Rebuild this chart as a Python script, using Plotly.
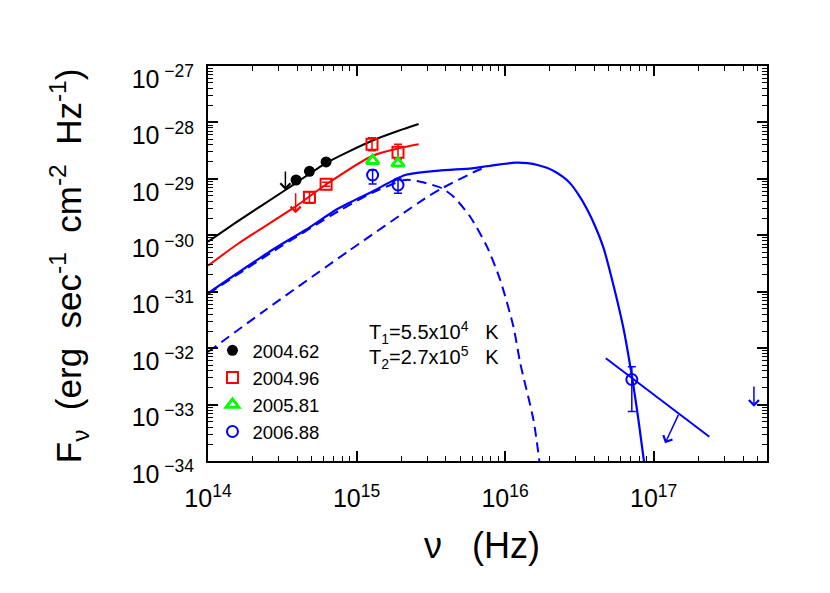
import numpy as np
import plotly.graph_objects as go

# All values below are log10(nu [Hz]) and log10(F_nu [erg/s/cm2/Hz])

# photometry per epoch
nu_0462 = [14.593, 14.683, 14.795]
f_0462 = [-29.020, -28.866, -28.701]

nu_0496 = [14.683, 14.795, 15.104, 15.279]
f_0496 = [-29.327, -29.096, -28.388, -28.530]
f_0496_hi = [-29.227, -29.060, -28.270, -28.388]
f_0496_lo = [-29.433, -29.130, -28.500, -28.653]

nu_0581 = [15.108, 15.279]
f_0581 = [-28.678, -28.725]

nu_0688 = [15.108, 15.279, 16.853]
f_0688 = [-28.932, -29.109, -32.556]
f_0688_hi = [-28.843, -29.003, -32.329]
f_0688_lo = [-29.091, -29.256, -33.123]

# upper limits (arrow top -> arrow tip)
ul_nu = [14.521, 14.590, 17.675]
ul_top = [-28.843, -29.227, -32.653]
ul_tip = [-29.197, -29.610, -33.038]
ul_color = ["black", "red", "blue"]

# X-ray power-law and its slope-uncertainty arrow
xray_nu = [16.678, 17.375]
xray_f = [-32.180, -33.569]
slope_nu = [17.171, 17.077]
slope_f = [-33.155, -33.686]

# model curves
fit_0462_nu = [14.0, 14.207, 14.521, 14.593, 14.795, 15.104, 15.283, 15.418]
fit_0462_f = [-30.114, -29.740, -29.197, -29.070, -28.720, -28.324, -28.147, -28.028]

fit_0496_nu = [14.0, 14.207, 14.588, 14.790, 15.104, 15.283, 15.418]
fit_0496_f = [-30.539, -30.142, -29.493, -29.109, -28.595, -28.459, -28.388]

fit_0688_nu = [14.0, 14.432, 14.656, 14.880, 15.104, 15.328, 15.552, 15.777, 15.888,
               16.068, 16.150, 16.225, 16.281, 16.337, 16.394, 16.438, 16.494, 16.550,
               16.606, 16.662, 16.729, 16.796, 16.853, 16.897, 16.935]
fit_0688_f = [-31.028, -30.261, -29.906, -29.522, -29.228, -28.932, -28.855, -28.813,
              -28.772, -28.714, -28.722, -28.758, -28.805, -28.875, -28.975, -29.080,
              -29.280, -29.530, -29.840, -30.220, -30.880, -31.640, -32.490, -33.260,
              -34.010]

bb1_nu = [14.0, 14.432, 14.880, 15.104, 15.328, 15.429, 15.575, 15.653, 15.765, 15.878,
          15.967, 16.056, 16.102, 16.191, 16.231]
bb1_f = [-31.040, -30.296, -29.570, -29.250, -29.020, -29.050, -29.167, -29.316, -29.671,
         -30.202, -30.792, -31.620, -32.268, -33.273, -34.012]

bb2_nu = [14.0, 14.387, 14.947, 15.463, 15.575, 15.821, 15.888]
bb2_f = [-32.068, -31.324, -30.278, -29.344, -29.167, -28.843, -28.775]

# axis decades and their labels
x_decades = [14, 15, 16, 17]
y_decades = [-34, -33, -32, -31, -30, -29, -28, -27]
x_ticktext = ["10<sup>%d</sup>" % d for d in x_decades]
y_ticktext = ["10<sup>\u00a0\u2212%d</sup>" % -d for d in y_decades]

T_labels = ["T<sub>1</sub>=5.5x10<sup>4</sup>\u00a0\u00a0\u00a0K",
            "T<sub>2</sub>=2.7x10<sup>5</sup>\u00a0\u00a0\u00a0K"]

FONT = "Liberation Sans"


def lin(v):
    return np.power(10.0, np.array(v))


def err(f, hi, lo, color):
    return dict(type="data", symmetric=False,
                array=lin(hi) - lin(f), arrayminus=lin(f) - lin(lo),
                width=4, thickness=1.5, color=color)


def curve(nu, f, color, width=2, dash=None):
    return go.Scatter(x=lin(nu), y=lin(f), mode="lines", showlegend=False,
                      hoverinfo="skip",
                      line=dict(color=color, width=width, dash=dash,
                                shape="spline", smoothing=0.7))


fig = go.Figure()

# curves
fig.add_trace(curve(fit_0462_nu, fit_0462_f, "black"))
fig.add_trace(curve(fit_0496_nu, fit_0496_f, "red"))
fig.add_trace(curve(bb1_nu, bb1_f, "blue", dash="10px,6px"))
fig.add_trace(curve(bb2_nu, bb2_f, "blue", dash="10px,6px"))
fig.add_trace(curve(fit_0688_nu, fit_0688_f, "blue", width=2.2))
fig.add_trace(go.Scatter(x=lin(xray_nu), y=lin(xray_f), mode="lines",
                         line=dict(color="blue", width=2), showlegend=False))

# data points
fig.add_trace(go.Scatter(x=lin(nu_0462), y=lin(f_0462), mode="markers", name="2004.62",
                         marker=dict(symbol="circle", size=11, color="black")))
fig.add_trace(go.Scatter(x=lin(nu_0496), y=lin(f_0496), mode="markers", name="2004.96",
                         error_y=err(f_0496, f_0496_hi, f_0496_lo, "red"),
                         marker=dict(symbol="square-open", size=11, color="red",
                                     line=dict(width=2))))
fig.add_trace(go.Scatter(x=lin(nu_0581), y=lin(f_0581), mode="markers", name="2005.81",
                         marker=dict(symbol="triangle-up-open", size=11, color="#00ff00",
                                     line=dict(width=3))))
fig.add_trace(go.Scatter(x=lin(nu_0688), y=lin(f_0688), mode="markers", name="2006.88",
                         error_y=err(f_0688, f_0688_hi, f_0688_lo, "blue"),
                         marker=dict(symbol="circle-open", size=11, color="blue",
                                     line=dict(width=2))))

# upper-limit arrows
for n, top, tip, c in zip(ul_nu, ul_top, ul_tip, ul_color):
    fig.add_annotation(x=n, y=tip, ax=n, ay=top, xref="x", yref="y", axref="x", ayref="y",
                       text="", showarrow=True, arrowhead=4, arrowsize=1.3,
                       arrowwidth=1.5, arrowcolor=c, standoff=0)
fig.add_annotation(x=slope_nu[1], y=slope_f[1], ax=slope_nu[0], ay=slope_f[0],
                   xref="x", yref="y", axref="x", ayref="y", text="", showarrow=True,
                   arrowhead=4, arrowsize=1.3, arrowwidth=1.5, arrowcolor="blue", standoff=0)

# temperatures
for i, t in enumerate(T_labels):
    fig.add_annotation(x=0.2845, y=0.325 - i * 0.0633, xref="paper", yref="paper",
                       text=t, showarrow=False, xanchor="left", yanchor="middle",
                       font=dict(size=20, color="black", family=FONT))

# axis titles
fig.add_annotation(x=0.491, y=-0.2127, xref="paper", yref="paper",
                   xanchor="center", yanchor="middle",
                   text="\u03bd\u00a0\u00a0\u00a0(Hz)", showarrow=False,
                   font=dict(size=36, color="black", family=FONT))
fig.add_annotation(x=-0.248, y=0.494, xref="paper", yref="paper", textangle=-90,
                   xanchor="center", yanchor="middle",
                   text="F<sub>\u03bd</sub>\u00a0\u00a0(erg\u00a0\u00a0sec<sup>-1</sup>\u00a0\u00a0cm<sup>-2</sup>\u00a0\u00a0Hz<sup>-1</sup>)",
                   showarrow=False, font=dict(size=35, color="black", family=FONT))

axis_style = dict(
    type="log", showgrid=False, zeroline=False,
    showline=True, linewidth=2, linecolor="black", mirror="allticks",
    ticks="inside", ticklen=10, tickwidth=1.5, tickcolor="black",
    tickmode="array",
    tickfont=dict(size=25, color="black", family=FONT),
    minor=dict(ticks="inside", ticklen=5, tickwidth=1.2, tickcolor="black",
               dtick="D1", showgrid=False),
)

# the page adds an 8px body margin, so the figure is 8px smaller than the window
fig.update_layout(
    width=822, height=585,
    margin=dict(l=200, r=63, t=58, b=132),
    paper_bgcolor="white", plot_bgcolor="white",
    font=dict(family=FONT, color="black"),
    xaxis=dict(range=[14, 17.763], tickvals=lin(x_decades), ticktext=x_ticktext,
               ticklabelstandoff=14, **axis_style),
    yaxis=dict(range=[-34, -27], tickvals=lin(y_decades), ticktext=y_ticktext,
               ticklabelstandoff=7, ticklabelshift=13, **axis_style),
    showlegend=True,
    legend=dict(x=0.008, y=0.327, xanchor="left", yanchor="top",
                font=dict(size=18.5, color="black", family=FONT),
                bgcolor="rgba(0,0,0,0)", tracegroupgap=0),
)

fig.write_html("out.html")
